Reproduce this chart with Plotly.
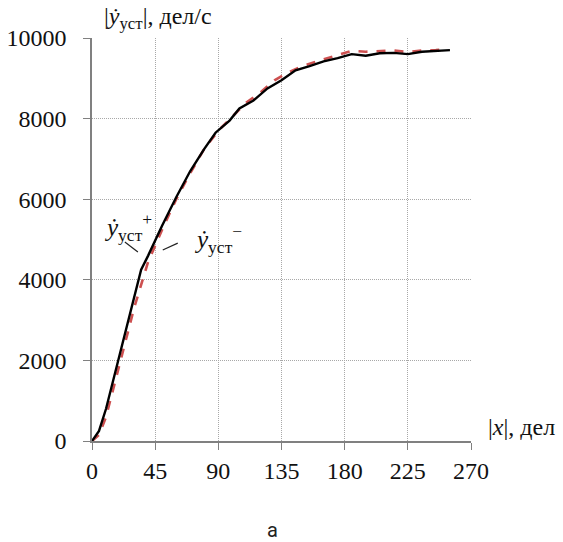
import plotly.graph_objects as go

# data: black solid (ẏ_уст+) and red dashed (ẏ_уст−)
x_plus = [0, 5, 10, 20, 30, 35, 40, 50, 60, 70, 80, 88, 98, 105, 115, 125, 135, 145, 155, 165, 175, 185, 195, 205, 215, 225, 235, 245, 255]
y_plus = [0, 250, 800, 2200, 3550, 4250, 4600, 5350, 6050, 6700, 7250, 7650, 7950, 8250, 8450, 8750, 8950, 9200, 9300, 9420, 9500, 9600, 9560, 9620, 9630, 9600, 9660, 9680, 9700]

x_minus = [0, 5, 10, 20, 30, 40, 45, 50, 60, 70, 80, 90, 100, 110, 120, 130, 140, 150, 160, 170, 180, 185, 195, 205, 215, 225, 235, 245, 252]
y_minus = [0, 150, 600, 1950, 3300, 4450, 4850, 5250, 6000, 6650, 7250, 7700, 8050, 8400, 8650, 8950, 9150, 9300, 9420, 9520, 9620, 9680, 9660, 9680, 9690, 9650, 9690, 9700, 9725]

x_ticks = [0, 45, 90, 135, 180, 225, 270]
y_ticks = [0, 2000, 4000, 6000, 8000, 10000]
y_tick_labels = ["0", "2000", "4000", "6000", "8000", "10000"]

serif = "Liberation Serif, Times New Roman, serif"

fig = go.Figure()
fig.add_trace(go.Scatter(x=x_minus, y=y_minus, mode="lines",
                         line=dict(color="#cd5050", width=2.6, dash="dash"),
                         hoverinfo="skip"))
fig.add_trace(go.Scatter(x=x_plus, y=y_plus, mode="lines",
                         line=dict(color="#000000", width=2.4),
                         hoverinfo="skip"))

axis_common = dict(
    showline=True, linecolor="#808080", linewidth=1.5,
    ticks="outside", ticklen=7, tickcolor="#808080", tickwidth=1.2,
    showgrid=True, gridcolor="#a8a8a8", griddash="1px,1px", gridwidth=1,
    zeroline=False, automargin=False,
    tickfont=dict(family=serif, size=24, color="#111111"),
)
fig.update_xaxes(range=[0, 270], tickvals=x_ticks, ticklabelstandoff=0, **axis_common)
fig.update_yaxes(range=[0, 10000], tickvals=y_ticks, ticktext=y_tick_labels,
                 ticklabelstandoff=12, **axis_common)

fig.add_annotation(xref="paper", yref="paper", x=0.026, y=1.05,
                   xanchor="left", yanchor="middle", showarrow=False,
                   text="|<i>ẏ</i><sub>уст</sub>|, дел/с",
                   font=dict(family=serif, size=24, color="#111111"))
fig.add_annotation(xref="paper", yref="paper", x=1.04, y=0.035,
                   xanchor="left", yanchor="middle", showarrow=False,
                   text="|<i>x</i>|, дел",
                   font=dict(family=serif, size=24, color="#111111"))
fig.add_annotation(xref="x", yref="y", x=7.0, y=5300,
                   xanchor="left", yanchor="middle", showarrow=False,
                   text="<i>ẏ</i><sub>уст</sub><sup>+</sup>",
                   font=dict(family=serif, size=25, color="#111111"))
fig.add_annotation(xref="x", yref="y", x=71, y=5020,
                   xanchor="left", yanchor="middle", showarrow=False,
                   text="<i>ẏ</i><sub>уст</sub><sup>−</sup>",
                   font=dict(family=serif, size=25, color="#111111"))
fig.add_annotation(xref="paper", yref="paper", x=0.475, y=-0.22,
                   xanchor="center", yanchor="middle", showarrow=False,
                   text="a",
                   font=dict(family="Liberation Sans Narrow, Roboto, sans-serif", size=20, color="#222222"))

fig.add_shape(type="line", xref="x", yref="y", x0=23.4, y0=4940, x1=32.7, y1=4690,
              line=dict(color="#222222", width=1.2))
fig.add_shape(type="line", xref="x", yref="y", x0=50.4, y0=4740, x1=61.1, y1=4910,
              line=dict(color="#222222", width=1.2))

fig.update_layout(
    width=563, height=542,
    margin=dict(l=92, r=92, t=38, b=101),
    paper_bgcolor="white", plot_bgcolor="white",
    showlegend=False,
)

fig.write_html("out.html", config={"displayModeBar": False},
               post_script="document.body.style.margin='0';document.body.style.overflow='hidden';")
